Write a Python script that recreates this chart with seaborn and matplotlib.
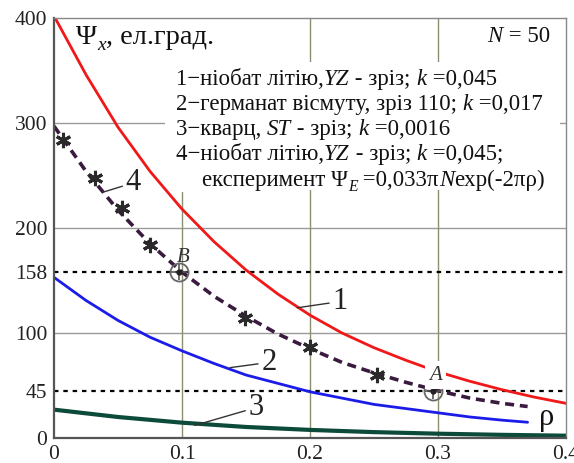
import numpy as np
import pandas as pd
import matplotlib
matplotlib.use("Agg")
import matplotlib.pyplot as plt
import matplotlib.patches as mpatches
import seaborn as sns

# ---- data ----
rho_1 = [0, 0.025, 0.05, 0.075, 0.1, 0.125, 0.15, 0.175, 0.2, 0.225, 0.25, 0.275, 0.3, 0.325, 0.35, 0.375, 0.4]
psi_1 = [402, 346, 296, 254, 218, 187, 160, 137, 117, 100, 86, 74, 63, 54, 46, 39, 33]

rho_2 = [0, 0.025, 0.05, 0.075, 0.1, 0.125, 0.15, 0.175, 0.2, 0.225, 0.25, 0.275, 0.3, 0.325, 0.35, 0.37]
psi_2 = [153, 131, 112, 96, 83, 71, 60, 52, 44, 38, 32, 28, 24, 20, 17, 15]

rho_3 = [0, 0.05, 0.1, 0.15, 0.2, 0.25, 0.3, 0.35, 0.4]
psi_3 = [27, 20, 14.6, 10.5, 7.7, 5.6, 4.1, 3.0, 2.2]

rho_4 = [0, 0.025, 0.05, 0.075, 0.1, 0.125, 0.15, 0.175, 0.2, 0.225, 0.25, 0.275, 0.3, 0.325, 0.35, 0.37]
psi_4 = [297, 254, 217, 185, 158, 135, 116, 99, 85, 72, 62, 53, 45, 38, 33, 30]

rho_exp = [0.007, 0.032, 0.053, 0.075, 0.149, 0.2, 0.252]
psi_exp = [284, 248, 219, 184, 114, 87, 60]

rho_pts = [0.098, 0.296]
psi_pts = [158, 45]
pt_names = ["B", "A"]

x_ticks = [0, 0.1, 0.2, 0.3, 0.4]
x_tick_labels = ["0", "0.1", "0.2", "0.3", "0.4"]
y_ticks = [0, 45, 100, 158, 200, 300, 400]
y_tick_labels = ["0", "45", "100", "158", "200", "300", "400"]

# legend rows as (text, kind) segments: n = normal, i = italic, s = italic subscript
legend_rows = [
    [("1\u2212ніобат літію,", "n"), ("YZ", "i"), (" - зріз; ", "n"), ("k", "i"), (" =0,045", "n")],
    [("2\u2212германат вісмуту, зріз 110; ", "n"), ("k", "i"), (" =0,017", "n")],
    [("3\u2212кварц, ", "n"), ("ST", "i"), (" - зріз; ", "n"), ("k", "i"), (" =0,0016", "n")],
    [("4\u2212ніобат літію,", "n"), ("YZ", "i"), (" - зріз; ", "n"), ("k", "i"), (" =0,045;", "n")],
    [("експеримент Ψ", "n"), ("Е", "s"), (" =0,033π", "n"), ("N", "i"), ("exp(-2πρ)", "n")],
]
title_row = [("Ψ", "n"), ("x", "s"), (", ел.град.", "n")]
n_row = [("N", "i"), (" = 50", "n")]

# ---- style ----
sns.set_theme(style="white")
plt.rcParams["font.family"] = ["Liberation Serif", "DejaVu Serif"]
SERIF = ["Liberation Serif", "DejaVu Serif"]

W, H = 574, 463
fig = plt.figure(figsize=(W / 100, H / 100), dpi=100)
ax = fig.add_axes([54 / W, 1 - 438 / H, 512 / W, 420 / H])
ax.set_xlim(0, 0.4)
ax.set_ylim(0, 400)

# grid
for yv in [100, 200, 300]:
    ax.axhline(yv, color="#9a9a9a", lw=1.0, zorder=1)
for xv in [0.2, 0.3]:
    ax.axvline(xv, color="#8e8e70", lw=1.0, zorder=1)
ax.axvline(0.1, ymax=234 / 400, color="#8e8e70", lw=1.0, zorder=1)
for yv in [158, 45]:
    ax.axhline(yv, color="black", lw=1.6, ls=(0, (2, 2.2)), zorder=2)

# white box behind the legend text
box = mpatches.Rectangle(((165 - 54) / 512, (438 - 190) / 420), (560 - 165) / 512, (190 - 62) / 420,
                         transform=ax.transAxes, facecolor="white", edgecolor="none", zorder=3)
ax.add_patch(box)

# curves
df1 = pd.DataFrame({"rho": rho_1, "psi": psi_1})
df2 = pd.DataFrame({"rho": rho_2, "psi": psi_2})
df3 = pd.DataFrame({"rho": rho_3, "psi": psi_3})
df4 = pd.DataFrame({"rho": rho_4, "psi": psi_4})

sns.lineplot(data=df1, x="rho", y="psi", ax=ax, color="#f01818", lw=2.0, zorder=4)
sns.lineplot(data=df2, x="rho", y="psi", ax=ax, color="#1c1ce8", lw=2.0, zorder=4)
sns.lineplot(data=df3, x="rho", y="psi", ax=ax, color="#0c4a3a", lw=3.0, zorder=4)
l4 = sns.lineplot(data=df4, x="rho", y="psi", ax=ax, color="#3a1a3e", lw=2.6, zorder=5)
l4.lines[-1].set_dashes((2.5, 1.6))
ax.plot(rho_exp, psi_exp, ls="none", marker=(6, 2, 0), ms=11, mew=2.2, color="#2a2a2a", zorder=6)

# special points
ax.plot(rho_pts, psi_pts, ls="none", marker="o", ms=13, mfc="none", mec="#666666", mew=1.3, zorder=6)
ax.plot(rho_pts, psi_pts, ls="none", marker="+", ms=11, mec="#555555", mew=1.2, zorder=6)
ax.plot(rho_pts, psi_pts, ls="none", marker="o", ms=3.5, color="#222222", zorder=7)
ax.text(rho_pts[0] + 0.003, psi_pts[0] + 14, pt_names[0], fontsize=15, style="italic", family=SERIF,
        ha="center", va="center", color="#333333", zorder=7)
ax.text(rho_pts[1] + 0.002, psi_pts[1] + 15, pt_names[1], fontsize=15, style="italic", family=SERIF,
        ha="center", va="center", color="#333333", zorder=7,
        bbox=dict(facecolor="white", edgecolor="none", pad=3))

# curve labels with leaders
lab_kw = dict(fontsize=22, ha="left", va="center", color="#222222", zorder=8, family=SERIF)
arr = dict(arrowstyle="-", color="#333333", lw=1.0, shrinkA=0, shrinkB=0)
ax.annotate("1", xy=(0.19, 124), xytext=(0.2175, 130), arrowprops=arr, **lab_kw)
ax.annotate("2", xy=(0.1375, 67), xytext=(0.162, 72), arrowprops=arr, **lab_kw)
ax.annotate("3", xy=(0.110, 12), xytext=(0.152, 29), arrowprops=arr, **lab_kw)
ax.annotate("4", xy=(0.038, 234), xytext=(0.056, 243), arrowprops=arr, **lab_kw)
ax.text((547 - 54) / 512, (438 - 418) / 420, "ρ", transform=ax.transAxes,
        fontsize=22, ha="center", va="center", color="#111111", zorder=8, family=SERIF)

renderer = fig.canvas.get_renderer()


def rich(x_px, base_px, segs, size, align="left"):
    """Draw segments of plain / italic / subscript text on one baseline (pixel coords from top-left)."""
    made = []
    cx = 0.0
    for txt, kind in segs:
        fs = size * 0.68 if kind == "s" else size
        dy = size * 1.389 * 0.22 if kind == "s" else 0.0
        st = "normal" if kind == "n" else "italic"
        t = fig.text(0, 0, txt, fontsize=fs, style=st, family=SERIF, ha="left", va="baseline",
                     color="#111111", zorder=10)
        w = t.get_window_extent(renderer).width
        made.append((t, cx, dy))
        cx += w
    x0 = x_px - cx if align == "right" else x_px
    for t, off, dy in made:
        t.set_position(((x0 + off) / W, 1 - (base_px + dy) / H))


rich(76, 44, title_row, 20.5)
rich(550, 42, n_row, 16.5, align="right")
leg_base = [85, 110, 135, 160, 186]
leg_x = [176, 176, 176, 176, 202]
for segs, yy, xx in zip(legend_rows, leg_base, leg_x):
    rich(xx, yy, segs, 16.5)

# axes / ticks
ax.set_xticks(x_ticks)
ax.set_xticklabels(x_tick_labels, family=SERIF)
ax.set_yticks(y_ticks)
ax.set_yticklabels(y_tick_labels, family=SERIF)
ax.tick_params(axis="both", length=0, labelsize=15.5, colors="#222222", pad=5)
ax.set_xlabel("")
ax.set_ylabel("")
for side in ["left", "bottom"]:
    ax.spines[side].set_color("#555555")
    ax.spines[side].set_linewidth(1.6)
for side in ["top", "right"]:
    ax.spines[side].set_color("#888888")
    ax.spines[side].set_linewidth(1.0)
for sp in ax.spines.values():
    sp.set_visible(True)
    sp.set_zorder(9)

fig.savefig("out.png", dpi=100)
